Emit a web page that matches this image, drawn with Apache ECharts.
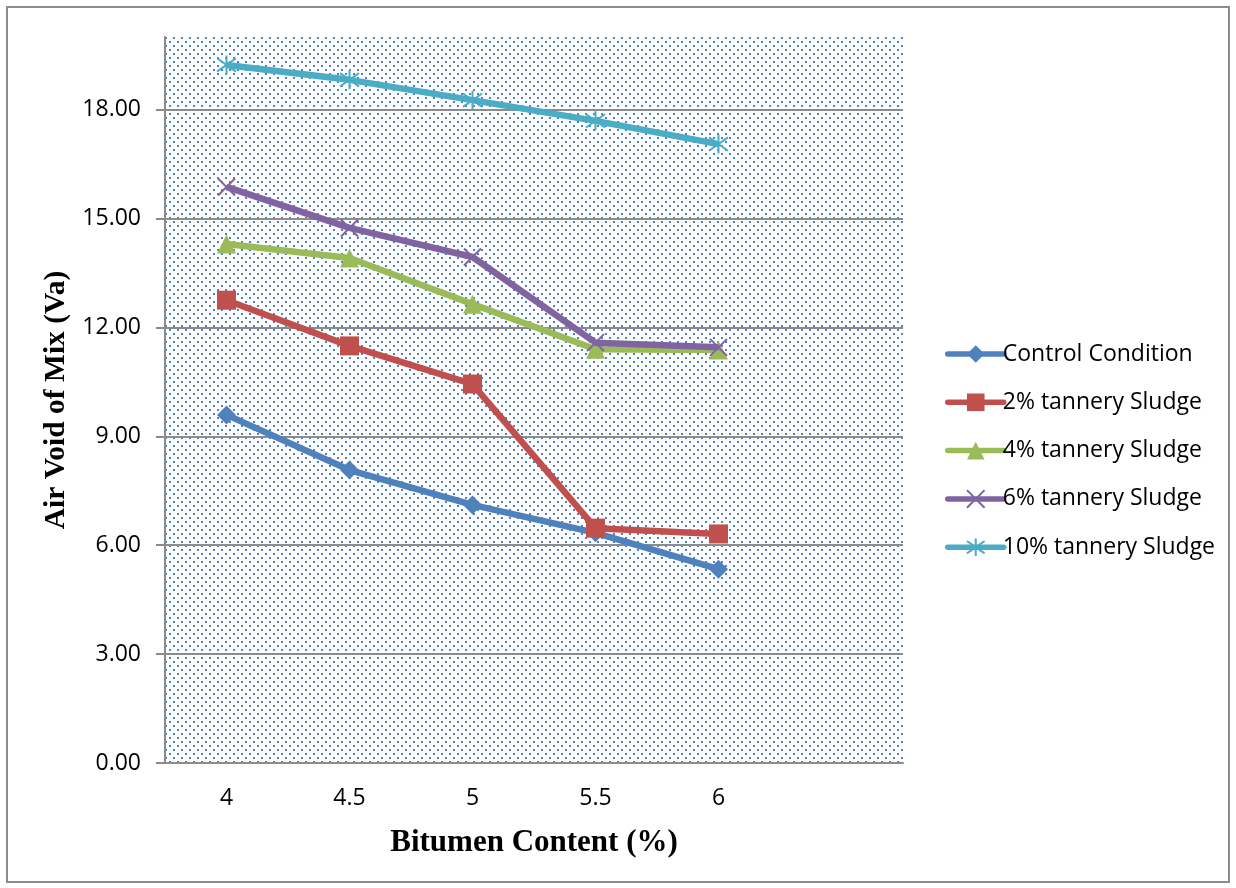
<!DOCTYPE html>
<html>
<head>
<meta charset="utf-8">
<script src="https://cdn.jsdelivr.net/npm/echarts@6/dist/echarts.min.js"></script>
<style>
html,body{margin:0;padding:0;background:#fff;}
#chart{width:1236px;height:888px;}
</style>
</head>
<body>
<div id="chart"></div>
<script>
const categories = ['4', '4.5', '5', '5.5', '6', ''];
const yTicks = [0, 3, 6, 9, 12, 15, 18];
const seriesNames = ['Control Condition', '2% tannery Sludge', '4% tannery Sludge', '6% tannery Sludge', '10% tannery Sludge'];
const control = [9.59, 8.07, 7.11, 6.34, 5.34];
const sludge2 = [12.75, 11.49, 10.44, 6.47, 6.31];
const sludge4 = [14.30, 13.91, 12.64, 11.40, 11.38];
const sludge6 = [15.87, 14.74, 13.94, 11.58, 11.45];
const sludge10 = [19.23, 18.82, 18.26, 17.69, 17.05];

const colors = ['#4F81BD', '#C0504D', '#9BBB59', '#8064A2', '#4BACC6'];
const symbols = [
  'diamond',
  'rect',
  'triangle',
  'path://M0,0 L10,10 M10,0 L0,10',
  'path://M5,0 L5,10 M0,1.5 L10,8.5 M10,1.5 L0,8.5'
];
const symbolSizes = [19, 19, 19, 17, 19];
const dataSets = [control, sludge2, sludge4, sludge6, sludge10];

// dotted background pattern
const tile = document.createElement('canvas');
tile.width = 8; tile.height = 8;
const tctx = tile.getContext('2d');
tctx.fillStyle = '#ffffff';
tctx.fillRect(0, 0, 8, 8);
tctx.fillStyle = '#4F81BD';
tctx.fillRect(1, 1, 2, 2);
tctx.fillRect(5, 5, 2, 2);

const chart = echarts.init(document.getElementById('chart'), null, {renderer: 'canvas'});

const series = seriesNames.map((name, i) => {
  const isStroke = i >= 3;
  return {
    name: name,
    type: 'line',
    data: dataSets[i],
    symbol: symbols[i],
    symbolSize: symbolSizes[i],
    showAllSymbol: true,
    lineStyle: {color: colors[i], width: 6.5},
    itemStyle: isStroke
      ? {color: colors[i], borderColor: colors[i], borderWidth: 2}
      : {color: colors[i], borderWidth: 0},
    emphasis: {disabled: true},
    animation: false,
    z: 3 + i
  };
});

chart.setOption({
  animation: false,
  backgroundColor: '#ffffff',
  grid: {
    left: 165, top: 37, right: 333, bottom: 125,
    show: true,
    backgroundColor: {image: tile, repeat: 'repeat'},
    borderWidth: 0
  },
  legend: {
    orient: 'vertical',
    left: 940,
    top: 337,
    itemWidth: 56,
    itemHeight: 22,
    itemGap: 24.3,
    lineStyle: {width: 5.5, cap: 'round'},
    textStyle: {fontFamily: 'Open Sans', fontSize: 23, color: '#000', lineHeight: 24, padding: [0, 0, 0, -6]},
    data: seriesNames
  },
  xAxis: {
    type: 'category',
    data: categories,
    boundaryGap: true,
    name: 'Bitumen Content (%)',
    nameLocation: 'middle',
    nameGap: 64,
    nameTextStyle: {fontFamily: 'Liberation Serif', fontWeight: 'bold', fontSize: 31, color: '#000'},
    axisLine: {show: true, lineStyle: {color: '#8c8c8c', width: 2}},
    axisTick: {show: false},
    axisLabel: {fontFamily: 'Open Sans', fontSize: 23, color: '#000', margin: 24},
    splitLine: {show: false}
  },
  yAxis: {
    type: 'value',
    min: 0,
    max: 20,
    interval: 1,
    name: 'Air Void of Mix (Va)',
    nameLocation: 'middle',
    nameGap: 93,
    nameRotate: 90,
    nameTextStyle: {fontFamily: 'Liberation Serif', fontWeight: 'bold', fontSize: 29.5, color: '#000'},
    axisLine: {show: true, lineStyle: {color: '#8c8c8c', width: 2}},
    axisTick: {show: true, inside: false, length: 9, customValues: yTicks, lineStyle: {color: '#8c8c8c', width: 2}},
    axisLabel: {
      customValues: yTicks,
      fontFamily: 'Open Sans', fontSize: 23, color: '#000', margin: 24,
      formatter: v => Number(v).toFixed(2)
    },
    splitLine: {show: true, customValues: yTicks, lineStyle: {color: '#8c8c8c', width: 2}}
  },
  graphic: [{
    type: 'rect',
    shape: {x: 7, y: 7, width: 1222, height: 875},
    style: {fill: 'none', stroke: '#8c8c8c', lineWidth: 2},
    silent: true
  }],
  series: series
});
</script>
</body>
</html>
